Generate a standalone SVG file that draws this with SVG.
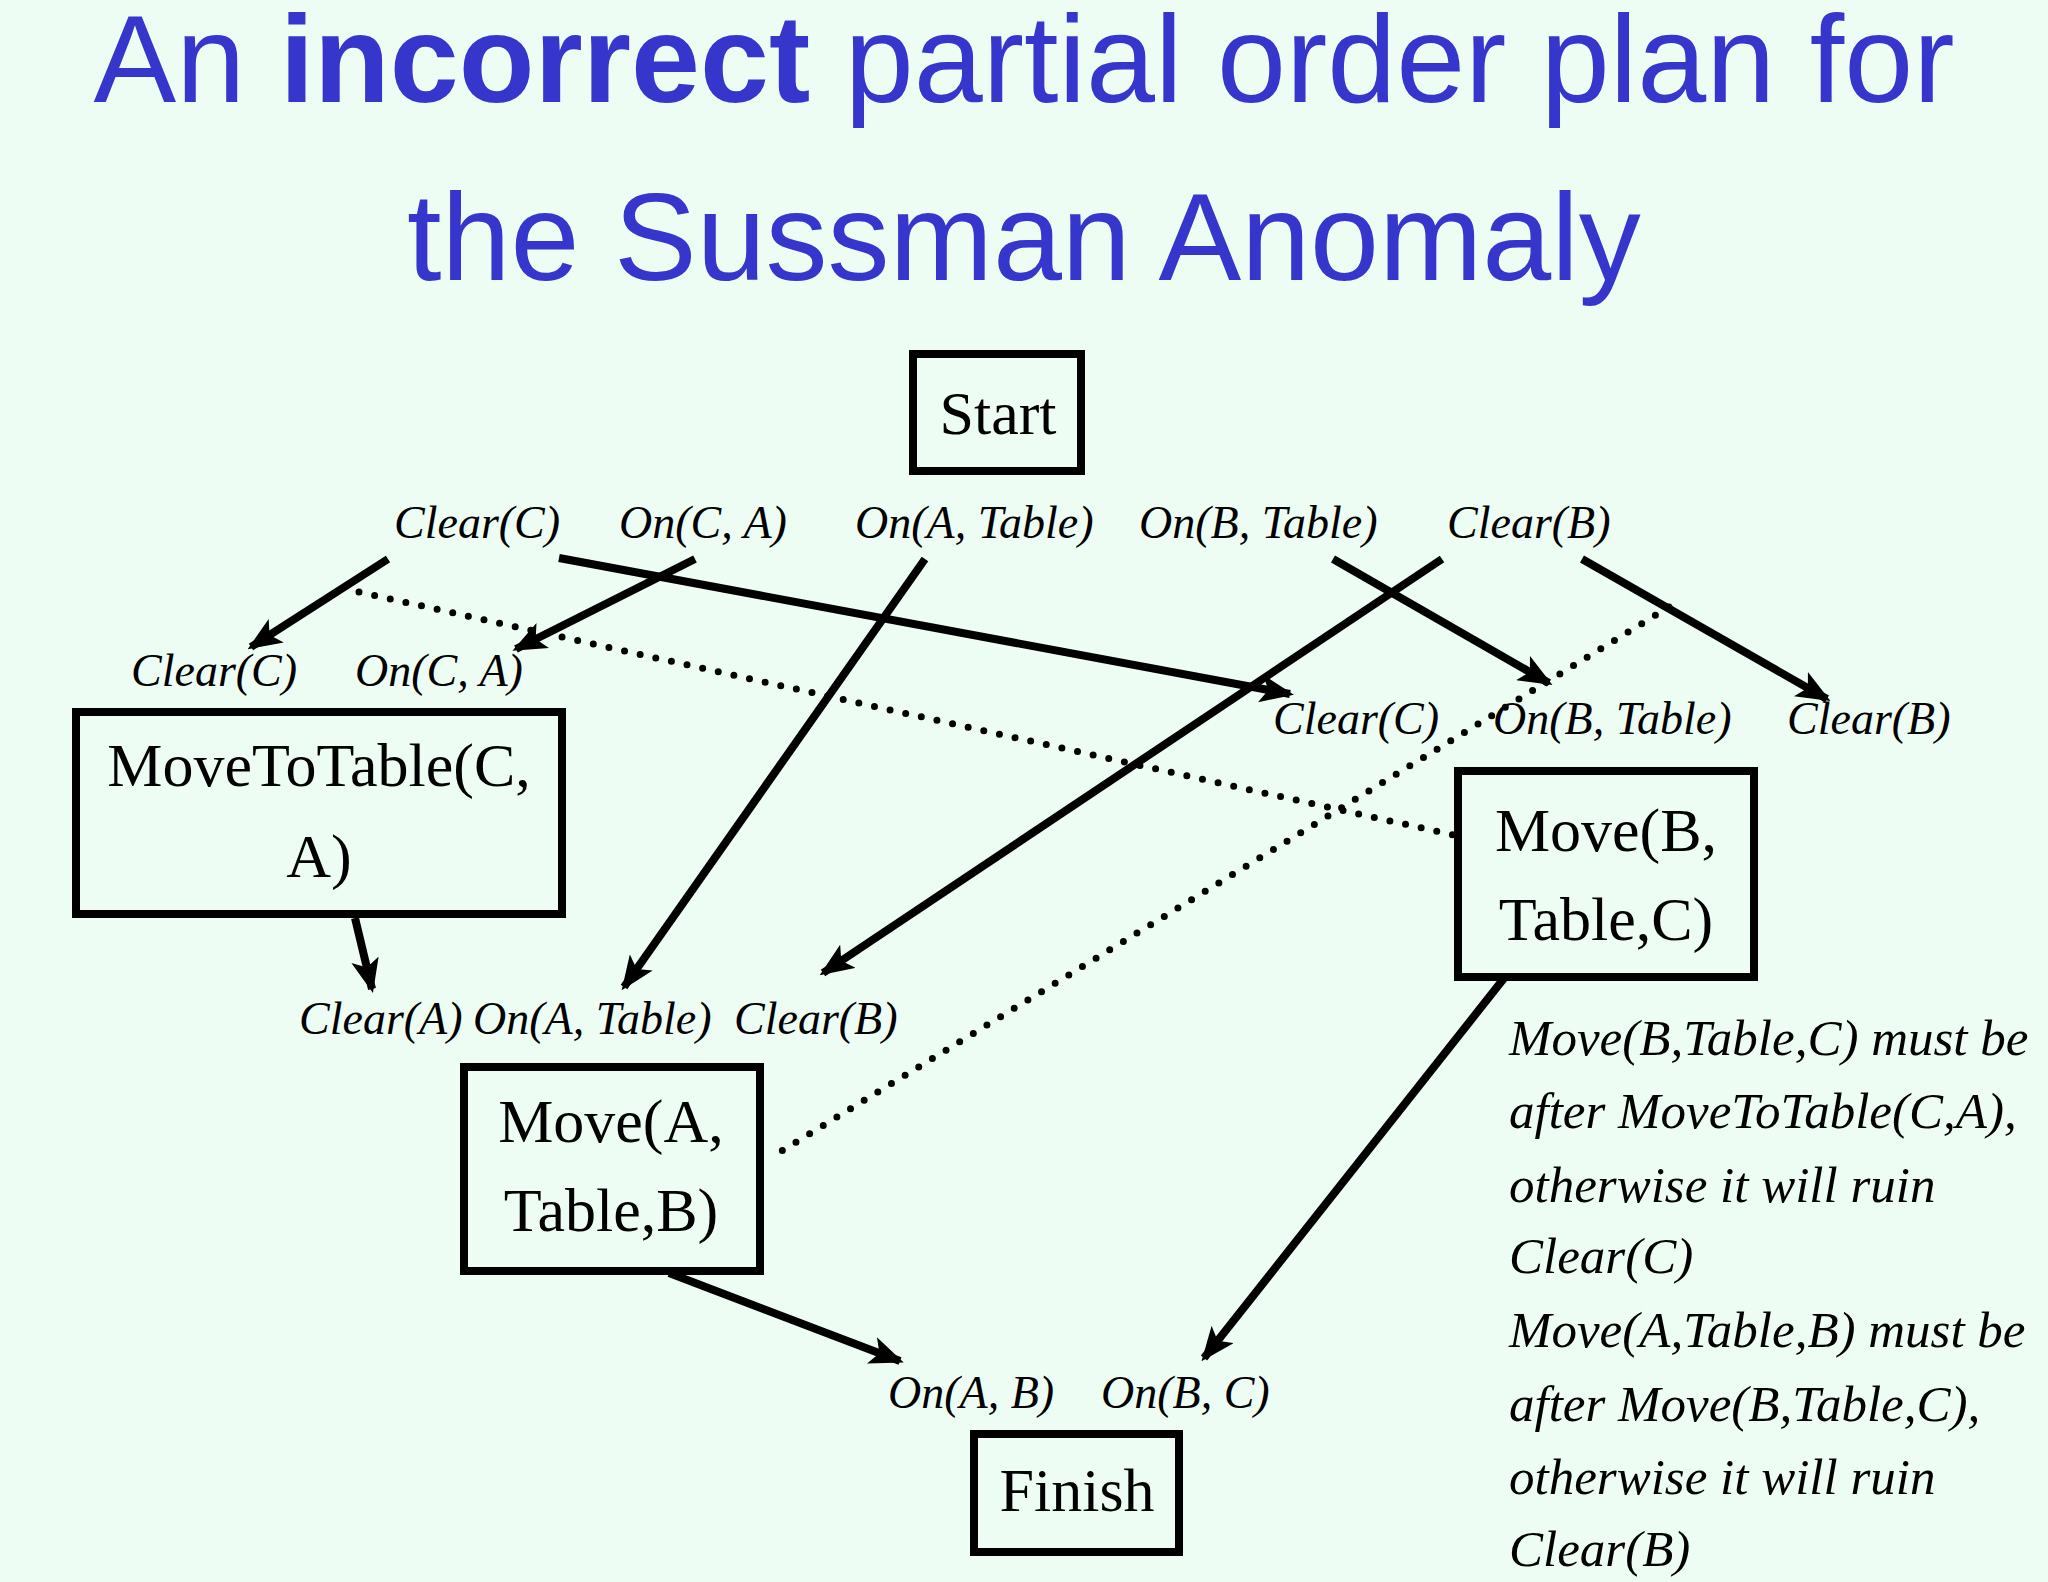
<svg xmlns="http://www.w3.org/2000/svg" width="2048" height="1582" viewBox="0 0 2048 1582">
<defs>
<marker id="ah" markerUnits="userSpaceOnUse" markerWidth="34" markerHeight="28" refX="30" refY="14" orient="auto" viewBox="0 0 34 28">
<path d="M0,0 L34,14 L0,28 L8,14 Z" fill="#000"/>
</marker>
</defs>
<style>
.title{font-family:"Liberation Sans",Arial,sans-serif;font-size:124px;fill:#3636CC;text-anchor:middle}
.box{fill:none;stroke:#000;stroke-width:8}
.bt{font-family:"Liberation Serif","Times New Roman",serif;font-size:62px;fill:#000;text-anchor:middle}
.lbl{font-family:"Liberation Serif","Times New Roman",serif;font-style:italic;font-size:46px;fill:#000}
.note{font-family:"Liberation Serif","Times New Roman",serif;font-style:italic;font-size:51px;fill:#000}
.ln{stroke:#000;stroke-width:8;fill:none;marker-end:url(#ah)}
.dot{stroke:#000;stroke-width:7;fill:none;stroke-dasharray:0 16;stroke-linecap:round}
</style>
<rect width="2048" height="1582" fill="#EDFDF4"/>
<text class="title" x="1024" y="102">An <tspan font-weight="bold">incorrect</tspan> partial order plan for</text>
<text class="title" x="1024" y="280">the Sussman Anomaly</text>

<g id="start"><rect class="box" x="913" y="354" width="168" height="117"/><text class="bt" x="998" y="434">Start</text>
<text class="lbl" x="394" y="538">Clear(C)</text><text class="lbl" x="619" y="538">On(C, A)</text><text class="lbl" x="855" y="538">On(A, Table)</text><text class="lbl" x="1139" y="538">On(B, Table)</text><text class="lbl" x="1447" y="538">Clear(B)</text></g>

<g id="movetotable"><text class="lbl" x="131" y="686">Clear(C)</text><text class="lbl" x="355" y="686">On(C, A)</text>
<rect class="box" x="76" y="712" width="486" height="202"/><text class="bt" x="319" y="786">MoveToTable(C,</text><text class="bt" x="319" y="877">A)</text></g>

<g id="moveB"><text class="lbl" x="1273" y="734">Clear(C)</text><text class="lbl" x="1493" y="734">On(B, Table)</text><text class="lbl" x="1787" y="734">Clear(B)</text>
<rect class="box" x="1458" y="771" width="296" height="206"/><text class="bt" x="1606" y="851">Move(B,</text><text class="bt" x="1606" y="940">Table,C)</text></g>

<g id="moveA"><text class="lbl" x="299" y="1034">Clear(A)</text><text class="lbl" x="473" y="1034">On(A, Table)</text><text class="lbl" x="734" y="1034">Clear(B)</text>
<rect class="box" x="464" y="1067" width="296" height="204"/><text class="bt" x="611" y="1142">Move(A,</text><text class="bt" x="611" y="1231">Table,B)</text></g>

<g id="finish"><text class="lbl" x="888" y="1408">On(A, B)</text><text class="lbl" x="1101" y="1408">On(B, C)</text>
<rect class="box" x="974" y="1434" width="205" height="118"/><text class="bt" x="1077" y="1511">Finish</text></g>

<g id="note">
<text class="note" x="1509" y="1055">Move(B,Table,C) must be</text>
<text class="note" x="1509" y="1128">after MoveToTable(C,A),</text>
<text class="note" x="1509" y="1202">otherwise it will ruin</text>
<text class="note" x="1509" y="1273">Clear(C)</text>
<text class="note" x="1509" y="1347">Move(A,Table,B) must be</text>
<text class="note" x="1509" y="1421">after Move(B,Table,C),</text>
<text class="note" x="1509" y="1494">otherwise it will ruin</text>
<text class="note" x="1509" y="1566">Clear(B)</text>
</g>

<g id="connectors">
<line class="ln" x1="388" y1="559" x2="251" y2="647"/>
<line class="ln" x1="695" y1="559" x2="516" y2="649"/>
<line class="ln" x1="559" y1="558" x2="1290" y2="694"/>
<line class="ln" x1="925" y1="559" x2="624" y2="987"/>
<line class="ln" x1="1442" y1="559" x2="823" y2="973"/>
<line class="ln" x1="1333" y1="559" x2="1549" y2="683"/>
<line class="ln" x1="1582" y1="559" x2="1827" y2="699"/>
<line class="ln" x1="355" y1="918" x2="372" y2="989"/>
<line class="ln" x1="669" y1="1273" x2="900" y2="1361"/>
<line class="ln" x1="1505" y1="977" x2="1204" y2="1358"/>
<line class="dot" x1="359" y1="592" x2="1458" y2="836"/>
<line class="dot" x1="1669" y1="607" x2="775" y2="1155"/>
</g>
</svg>
